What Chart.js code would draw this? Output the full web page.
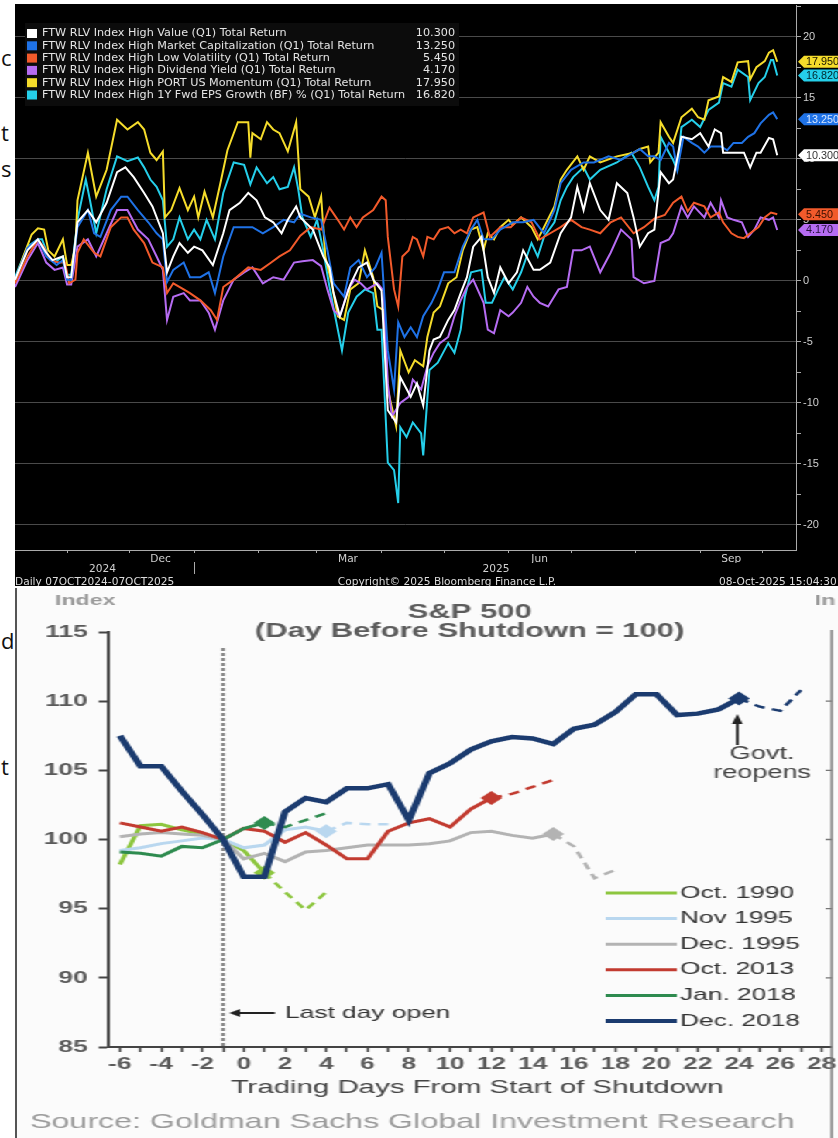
<!DOCTYPE html>
<html lang="en">
<head>
<meta charset="UTF-8">
<title>Factor index returns and S&amp;P 500 around shutdowns</title>
<script src="https://cdn.jsdelivr.net/npm/chart.js"></script>
<style>
  body { margin: 0; width: 838px; height: 1138px; position: relative; overflow: hidden; background: #fff; }
  .clip { position: absolute; left: 1px; font-family: "Open Sans", sans-serif; font-size: 22px; line-height: 22px; color: #111; }
  #bbg { position: absolute; left: 15px; top: 4px; width: 823px; height: 582px; background: #000; }
  #gsBorder { position: absolute; left: 15px; top: 588px; width: 2px; height: 550px; background: #555; }
  #gs { position: absolute; left: 17px; top: 588px; width: 530px; height: 550px; background: #fbfbfb;
        transform: scaleX(1.549); transform-origin: 0 0; }
</style>
</head>
<body>
<span class="clip" style="top:46px">c</span>
<span class="clip" style="top:121px">t</span>
<span class="clip" style="top:157px">s</span>
<span class="clip" style="top:629px">d</span>
<span class="clip" style="top:755px">t</span>

<div id="bbg"><canvas id="bbgChart" width="823" height="582"></canvas></div>
<div id="gsBorder"></div>
<div id="gs"><canvas id="gsChart" width="530" height="550"></canvas></div>

<script>
// ---------- top chart: FTW RLV factor indices, total return %, days since 07 Oct 2024 ----------
const monthStartDays = [25, 55, 86, 117, 145, 176, 206, 237, 267, 298, 329, 359];
const monthLabels = ['', 'Dec', '', '', 'Mar', '', '', 'Jun', '', '', 'Sep', ''];
const yearTickDays = [42, 231];
const yearLabels = ['2024', '2025'];
const yearSplitDay = 86;
const returnTicks = [-20, -17.5, -15, -12.5, -10, -7.5, -5, -2.5, 0, 2.5, 5, 7.5, 10, 12.5, 15, 17.5, 20, 22.5];

const seriesNames = [
  'FTW RLV Index High Value (Q1) Total Return',
  'FTW RLV Index High Market Capitalization (Q1) Total Return',
  'FTW RLV Index High Low Volatility (Q1) Total Return',
  'FTW RLV Index High Dividend Yield (Q1) Total Return',
  'FTW RLV Index High PORT US Momentum (Q1) Total Return',
  'FTW RLV Index High 1Y Fwd EPS Growth (BF) % (Q1) Total Return'
];
const seriesColors = ['#ffffff', '#1f72e6', '#f25a2b', '#b66cf2', '#f5dc2b', '#25cfea'];
const tagTextColors = ['#333333', '#d6e6ff', '#3a1000', '#24103a', '#1a1600', '#00262c'];

const footerLeft = 'Daily 07OCT2024-07OCT2025';
const footerMid = 'Copyright\u00a9 2025 Bloomberg Finance L.P.';
const footerRight = '08-Oct-2025 15:04:30';

const highValue = [[0,0.1],[6,2.5],[11,3.4],[15,2.3],[18,1.7],[23,2.0],[25,0.3],[27,0.3],[30,4.8],[35,5.8],
  [39,4.8],[44,6.4],[49,8.9],[53,9.3],[57,8.5],[62,7.2],[66,6.1],[71,3.9],[73,0.7],[76,2.0],
  [79,3.1],[83,2.3],[86,2.8],[90,2.5],[95,1.3],[100,3.9],[103,5.8],[108,6.4],[112,7.2],[116,6.6],
  [120,5.2],[124,4.8],[128,3.9],[131,5.0],[135,6.1],[137,5.2],[143,4.2],[148,2.0],[151,1.1],[153,-1.0],
  [156,-2.9],[161,-0.3],[165,1.1],[169,1.5],[172,0.1],[176,-0.8],[179,-10.6],[183,-11.6],[185,-7.9],[190,-9.5],
  [193,-8.4],[196,-10.2],[199,-5.7],[201,-4.8],[204,-4.6],[208,-3.2],[211,-2.4],[214,-1.0],[217,0.3],[220,2.8],
  [224,3.6],[227,0.3],[230,-1.0],[233,1.1],[237,-0.2],[241,0.7],[244,2.5],[249,0.9],[252,0.9],[257,1.5],
  [262,3.9],[267,5.2],[270,7.7],[273,5.8],[276,8.0],[281,5.8],[285,5.0],[289,8.0],[294,7.2],[297,5.2],
  [300,2.8],[304,3.9],[307,4.2],[310,8.9],[314,8.0],[316,8.3],[320,11.8],[325,11.6],[329,12.1],[333,11.0],
  [336,12.4],[339,12.1],[340,10.5],[344,10.5],[347,10.5],[350,10.5],[353,9.3],[356,10.5],[358,10.5],[362,11.7],
  [364,11.6],[366,10.3]];

const highMktCap = [[0,0.1],[6,2.7],[11,3.4],[15,2.0],[20,1.3],[23,1.7],[25,0.1],[27,0.1],[30,4.4],[35,5.8],
  [38,3.9],[41,3.6],[46,5.8],[51,6.9],[54,6.9],[59,5.8],[64,4.8],[68,3.9],[71,3.4],[73,-0.1],
  [76,0.9],[81,1.5],[84,0.3],[89,0.3],[93,0.7],[96,-1.0],[100,2.0],[105,4.4],[110,4.4],[114,4.4],
  [119,3.9],[124,4.4],[129,5.0],[134,4.8],[137,5.5],[142,5.2],[147,5.0],[150,2.5],[153,-0.2],[158,-1.3],
  [161,1.1],[165,1.7],[169,0.3],[173,1.1],[176,2.3],[179,-5.7],[182,-8.9],[184,-3.4],[187,-4.6],[190,-3.8],
  [193,-4.6],[196,-2.9],[200,-1.8],[203,-0.7],[206,0.7],[211,0.7],[215,2.8],[219,4.2],[222,5.0],[225,3.4],
  [229,3.4],[233,4.2],[239,4.8],[244,4.8],[249,5.0],[254,3.9],[259,5.8],[262,8.0],[267,9.1],[273,9.7],
  [278,9.7],[285,10.2],[291,9.9],[297,10.5],[300,10.8],[304,10.2],[307,10.2],[310,9.9],[314,11.3],[316,11.0],
  [318,9.1],[321,11.8],[325,11.3],[328,11.0],[331,10.5],[334,11.0],[339,11.0],[342,10.7],[345,11.3],[349,11.3],
  [352,11.8],[355,12.1],[358,12.9],[362,13.6],[364,13.8],[366,13.25]];

const highLowVol = [[0,-0.2],[6,2.0],[11,3.4],[14,2.7],[17,1.7],[21,1.5],[24,1.5],[26,-0.2],[29,0.1],[30,2.3],
  [33,3.4],[38,2.3],[41,2.0],[46,4.4],[51,5.2],[54,5.2],[57,4.2],[62,3.1],[66,1.5],[71,1.1],
  [73,-1.0],[76,-0.2],[81,-0.7],[84,-1.0],[89,-1.6],[94,-2.4],[97,-3.2],[100,-0.5],[105,0.1],[112,1.1],
  [118,0.9],[123,1.5],[127,2.0],[132,2.5],[137,3.7],[142,4.4],[147,4.2],[151,6.0],[155,5.0],[158,4.2],
  [161,5.2],[164,4.4],[167,5.2],[172,5.8],[176,6.9],[178,6.6],[179,3.6],[182,-0.7],[184,-2.1],[186,2.0],
  [189,2.5],[191,3.6],[193,3.4],[196,2.0],[198,3.6],[201,3.4],[204,4.2],[208,4.4],[211,3.9],[214,4.2],
  [217,3.9],[220,5.2],[225,5.6],[228,3.6],[233,4.4],[238,4.4],[243,5.2],[248,4.8],[252,3.4],[257,3.9],
  [262,4.4],[267,5.0],[272,4.4],[276,4.2],[281,3.9],[286,4.8],[291,5.2],[297,3.9],[302,4.4],[307,5.1],
  [312,5.4],[316,6.4],[320,6.9],[323,5.7],[326,6.4],[331,6.1],[334,5.2],[338,5.6],[340,4.8],[344,3.9],
  [347,3.6],[350,3.5],[353,3.9],[357,4.4],[360,5.2],[363,5.6],[366,5.45]];

const highDivYield = [[0,-0.5],[6,1.7],[11,3.1],[15,1.5],[19,0.9],[23,1.1],[25,-0.3],[27,-0.3],[30,2.8],[35,3.4],
  [39,2.0],[44,3.9],[49,5.8],[54,5.8],[59,4.2],[64,3.4],[68,2.0],[71,0.9],[73,-3.2],[76,-1.3],
  [81,-1.0],[84,-1.6],[89,-1.6],[93,-2.6],[96,-4.0],[100,-1.6],[105,0.1],[110,0.7],[114,1.1],[119,-0.2],
  [124,0.3],[129,0.1],[134,1.5],[138,1.6],[143,1.7],[147,1.2],[150,-0.7],[153,-2.4],[156,-2.9],[160,-0.7],
  [163,0.1],[166,-0.2],[169,-0.7],[174,-0.2],[177,-0.8],[179,-8.4],[181,-11.1],[185,-10.0],[189,-9.5],[191,-8.1],
  [195,-8.9],[198,-7.0],[201,-5.9],[204,-5.1],[208,-4.6],[211,-2.9],[214,-1.6],[217,-0.5],[220,0.1],[225,-1.8],
  [227,-4.0],[230,-4.3],[233,-2.4],[237,-2.9],[239,-2.6],[243,-1.8],[246,-0.5],[249,-1.3],[252,-1.8],[256,-2.1],
  [261,-0.7],[265,-0.5],[268,2.5],[272,2.5],[276,2.8],[281,0.7],[286,2.3],[291,4.2],[296,3.4],[297,0.3],
  [302,-0.2],[307,0.0],[310,3.1],[314,3.4],[316,3.9],[320,6.1],[323,5.2],[326,6.1],[331,5.2],[334,6.4],
  [338,5.2],[339,6.6],[342,5.2],[345,5.0],[349,4.8],[352,3.6],[355,4.2],[358,5.2],[362,5.0],[364,5.2],
  [366,4.17]];

const highMomentum = [[0,0.0],[4,2.0],[8,3.8],[11,4.3],[14,4.2],[16,2.5],[19,2.0],[23,3.4],[25,1.3],[27,1.3],
  [29,2.8],[30,6.6],[35,10.5],[39,6.9],[44,9.1],[49,13.2],[54,12.4],[59,13.0],[62,12.4],[65,10.5],
  [68,9.9],[71,10.6],[72,5.2],[75,5.8],[79,7.6],[83,5.8],[86,6.9],[88,5.2],[91,7.3],[95,5.2],
  [99,8.3],[102,10.7],[107,13.0],[112,13.0],[113,10.1],[114,12.1],[118,11.6],[121,13.0],[124,12.4],[127,12.1],
  [131,10.6],[135,13.0],[137,7.5],[141,6.9],[144,5.2],[147,6.9],[149,2.0],[152,-0.2],[155,-2.9],[158,-3.2],
  [161,-0.7],[165,-0.2],[168,2.5],[172,0.3],[174,-2.1],[177,-2.4],[179,-8.9],[183,-11.9],[185,-5.7],[189,-7.5],
  [192,-6.5],[196,-7.0],[198,-4.6],[201,-2.6],[204,-2.1],[208,-0.2],[212,0.3],[215,2.5],[219,4.2],[222,4.4],
  [225,2.5],[227,3.9],[230,3.4],[233,4.4],[237,5.0],[239,4.6],[243,5.2],[248,4.4],[251,3.4],[254,4.4],
  [259,6.1],[262,8.3],[265,9.1],[270,10.2],[273,9.1],[276,10.2],[281,9.7],[289,10.2],[297,10.5],[300,10.8],
  [304,11.0],[305,9.7],[309,10.5],[310,13.0],[314,11.8],[316,11.3],[320,13.4],[325,14.1],[328,13.4],[331,13.2],
  [333,14.8],[338,15.1],[340,16.7],[344,16.3],[347,17.9],[352,18.0],[353,16.5],[356,17.5],[360,18.0],[362,18.7],
  [364,18.9],[366,17.95]];

const highEpsGrowth = [[0,0.3],[6,2.8],[11,3.4],[13,3.4],[16,2.0],[19,1.5],[23,2.0],[25,0.5],[27,0.5],[30,5.0],
  [34,8.3],[36,6.6],[39,3.9],[44,7.5],[49,10.2],[54,9.8],[59,10.1],[62,9.3],[65,8.3],[68,7.7],
  [71,6.6],[73,2.8],[76,3.4],[79,5.2],[83,3.4],[86,4.2],[89,3.4],[92,5.0],[96,3.4],[100,7.2],
  [105,9.7],[110,9.5],[113,7.9],[116,9.3],[121,8.0],[124,8.5],[127,7.5],[131,7.7],[134,9.3],[136,7.5],
  [138,5.2],[142,3.6],[145,5.0],[148,2.5],[151,-0.5],[155,-4.0],[157,-5.7],[160,-2.6],[164,-1.3],[168,-0.7],
  [172,-1.0],[174,-4.0],[176,-4.0],[179,-14.9],[182,-15.5],[184,-18.2],[185,-12.0],[188,-12.8],[191,-11.6],[195,-12.5],
  [196,-14.3],[199,-7.3],[203,-6.7],[208,-5.1],[211,-5.9],[214,-4.0],[216,-1.3],[219,0.7],[224,0.9],[226,-1.8],
  [229,-1.8],[232,-0.7],[235,0.3],[239,-0.7],[243,0.7],[248,3.1],[251,2.0],[254,3.6],[259,4.8],[262,6.6],
  [265,7.7],[268,8.5],[273,9.3],[276,8.3],[281,9.1],[289,9.7],[296,10.5],[300,9.3],[304,7.7],[307,6.6],
  [309,7.7],[310,11.8],[314,10.5],[316,9.9],[318,9.1],[320,12.6],[325,13.2],[329,12.6],[333,14.0],[338,14.6],
  [340,16.2],[344,15.9],[347,17.3],[352,16.7],[353,14.8],[357,16.2],[360,16.7],[363,18.1],[364,18.1],[366,16.82]];

const bbgSeries = [highValue, highMktCap, highLowVol, highDivYield, highMomentum, highEpsGrowth];
const bbgFont = { family: 'DejaVu Sans', size: 10.6 };

// legend box, right-hand value tags, year row and footer
const bbgExtras = {
  id: 'bbgExtras',
  afterDraw(chart) {
    const { ctx, chartArea } = chart;
    const x = chart.scales.x, y = chart.scales.y;
    ctx.save();

    ctx.fillStyle = '#0c0c0c';
    ctx.fillRect(10, 19, 434, 83);
    ctx.font = '11.2px "DejaVu Sans"';
    ctx.textBaseline = 'middle';
    bbgSeries.forEach((s, i) => {
      const rowY = 29.5 + i * 12.3;
      const last = s[s.length - 1][1];
      ctx.fillStyle = seriesColors[i];
      ctx.fillRect(12, rowY - 4.5, 10, 9);
      ctx.fillStyle = '#e4e4e4';
      ctx.textAlign = 'left';
      ctx.fillText(seriesNames[i], 27, rowY);
      ctx.textAlign = 'right';
      ctx.fillText(last.toFixed(3), 440, rowY);
    });

    ctx.font = bbgFont.size + 'px "DejaVu Sans"';
    ctx.fillStyle = '#d0d0d0';
    ctx.textAlign = 'center';
    yearTickDays.forEach((d, i) => ctx.fillText(yearLabels[i], x.getPixelForValue(d), 565));

    const sx = Math.round(x.getPixelForValue(yearSplitDay)) + 0.5;
    ctx.strokeStyle = '#aaaaaa';
    ctx.lineWidth = 1;
    ctx.beginPath();
    ctx.moveTo(sx, 558);
    ctx.lineTo(sx, 570);
    ctx.stroke();

    ctx.font = '10.8px "Liberation Sans"';
    ctx.textAlign = 'left';
    bbgSeries.forEach((s, i) => {
      const last = s[s.length - 1][1];
      const py = y.getPixelForValue(last);
      const tip = chartArea.right + 2;
      ctx.fillStyle = seriesColors[i];
      ctx.beginPath();
      ctx.moveTo(tip, py);
      ctx.lineTo(tip + 6, py - 6);
      ctx.lineTo(chart.width, py - 6);
      ctx.lineTo(chart.width, py + 6);
      ctx.lineTo(tip + 6, py + 6);
      ctx.closePath();
      ctx.fill();
      ctx.fillStyle = tagTextColors[i];
      ctx.fillText(last.toFixed(3), tip + 8, py + 0.5);
    });

    ctx.font = bbgFont.size + 'px "DejaVu Sans"';
    ctx.fillStyle = '#dcdcdc';
    ctx.textAlign = 'left';
    ctx.fillText(footerLeft, 0, 578);
    ctx.textAlign = 'center';
    ctx.fillText(footerMid, 432, 578);
    ctx.textAlign = 'left';
    ctx.fillText(footerRight, 704, 578);
    ctx.restore();
  }
};

new Chart(document.getElementById('bbgChart'), {
  type: 'line',
  data: {
    datasets: bbgSeries.map((s, i) => ({
      label: seriesNames[i],
      data: s.map(p => ({ x: p[0], y: p[1] })),
      borderColor: seriesColors[i],
      borderWidth: 2,
      pointRadius: 0,
      tension: 0
    }))
  },
  options: {
    responsive: false,
    animation: false,
    events: [],
    layout: { padding: { top: 1, bottom: 23, left: 0, right: 0 } },
    plugins: { legend: { display: false }, tooltip: { enabled: false } },
    scales: {
      x: {
        type: 'linear', min: 0, max: 375, position: 'bottom',
        afterBuildTicks: s => { s.ticks = monthStartDays.map(v => ({ value: v })); },
        afterFit: s => { s.height = 13; s.paddingLeft = 0; s.paddingRight = 0; },
        ticks: { autoSkip: false, maxRotation: 0, padding: 0, labelOffset: 31, color: '#d0d0d0', font: bbgFont,
                 callback: (v, i) => monthLabels[i] },
        grid: { drawOnChartArea: false, tickLength: 3, color: '#aaaaaa' },
        border: { color: '#aaaaaa' }
      },
      y: {
        position: 'right', min: -22.05, max: 22.6,
        afterBuildTicks: s => { s.ticks = returnTicks.map(v => ({ value: v })); },
        afterFit: s => { s.width = 42; s.paddingTop = 0; s.paddingBottom = 0; },
        ticks: { padding: 2, color: '#cfcfcf', font: { family: 'Liberation Sans', size: 11 },
                 callback: v => (v % 5 === 0 ? String(v) : '') },
        grid: {
          color: c => (c.tick && c.tick.value % 5 === 0 ? '#4a4a4a' : 'rgba(0,0,0,0)'),
          tickColor: '#aaaaaa', tickLength: 5
        },
        border: { color: '#aaaaaa' }
      }
    }
  },
  plugins: [bbgExtras]
});

// ---------- bottom chart: S&P 500 around government shutdowns (day before shutdown = 100) ----------
const tradingDays = [-6, -5, -4, -3, -2, -1, 0, 1, 2, 3, 4, 5, 6, 7, 8, 9, 10, 11, 12, 13, 14, 15, 16, 17, 18, 19, 20, 21, 22, 23, 24, 25, 26, 27];
const tickDays = [-6, -5, -4, -3, -2, -1, 0, 1, 2, 3, 4, 5, 6, 7, 8, 9, 10, 11, 12, 13, 14, 15, 16, 17, 18, 19, 20, 21, 22, 23, 24, 25, 26, 27, 28];
const indexTicks = [85, 90, 95, 100, 105, 110, 115];
const lastOpenDay = -1;

const oct1990 = [98.2, 101.0, 101.1, 100.7, 100.4, 100.0, 99.2, 97.6, 96.2, 94.9, 96.2];
const nov1995 = [99.2, 99.4, 99.7, 99.9, 100.1, 100.0, 99.4, 99.6, 100.7, 100.9, 100.6, 101.2, 101.1, 101.1];
const dec1995 = [100.2, 100.4, 100.5, 100.4, 100.3, 100.0, 98.6, 99.0, 98.4, 99.1, 99.2, 99.4, 99.6, 99.6, 99.6,
                 99.7, 99.9, 100.5, 100.6, 100.3, 100.1, 100.4, 99.5, 97.2, 97.8];
const oct2013 = [101.2, 100.9, 100.6, 100.9, 100.5, 100.0, 100.8, 100.6, 99.8, 100.5, 99.6, 98.6, 98.6, 100.6,
                 101.2, 101.5, 100.9, 102.2, 103.0, 103.3, 103.8, 104.3];
const jan2018 = [99.1, 99.0, 98.8, 99.5, 99.4, 100.0, 100.8, 101.2, 100.9, 101.4, 101.9];
const dec2018 = [107.5, 105.3, 105.3, 103.5, 101.8, 100.0, 97.3, 97.3, 102.0, 103.0, 102.7, 103.7, 103.7, 104.0,
                 101.4, 104.8, 105.5, 106.5, 107.1, 107.4, 107.3, 106.9, 108.0, 108.3, 109.2, 110.5, 110.5, 109.0,
                 109.1, 109.4, 110.2, 109.6, 109.3, 110.8];
// index of the day the government reopened (diamond); dashed afterwards
const reopenIndex = [7, 10, 21, 18, 7, 30];

const shutdownNames = ['Oct. 1990', 'Nov 1995', 'Dec. 1995', 'Oct. 2013', 'Jan. 2018', 'Dec. 2018'];
const shutdownColors = ['#8dc63f', '#b9d7ef', '#b3b3b3', '#c23b30', '#2e8b4f', '#1b3b6f'];
const chartTitle = ['S&P 500', '(Day Before Shutdown = 100)'];
const xTitle = 'Trading Days From Start of Shutdown';
const sourceNote = 'Source: Goldman Sachs Global Investment Research';

const gsSeries = [oct1990, nov1995, dec1995, oct2013, jan2018, dec2018];

function drawArrow(ctx, x1, y1, x2, y2, len, half) {
  const a = Math.atan2(y2 - y1, x2 - x1);
  ctx.beginPath();
  ctx.moveTo(x1, y1);
  ctx.lineTo(x2 - Math.cos(a) * len * 0.6, y2 - Math.sin(a) * len * 0.6);
  ctx.stroke();
  ctx.beginPath();
  ctx.moveTo(x2, y2);
  ctx.lineTo(x2 - Math.cos(a) * len - Math.sin(a) * half, y2 - Math.sin(a) * len + Math.cos(a) * half);
  ctx.lineTo(x2 - Math.cos(a) * len + Math.sin(a) * half, y2 - Math.sin(a) * len - Math.cos(a) * half);
  ctx.closePath();
  ctx.fill();
}

const gsNotes = {
  id: 'gsNotes',
  beforeDatasetsDraw(chart) {
    const { ctx, chartArea } = chart;
    const px = chart.scales.x.getPixelForValue(lastOpenDay);
    ctx.save();
    ctx.strokeStyle = '#8a8a8a';
    ctx.lineWidth = 2.4;
    ctx.setLineDash([3, 2]);
    ctx.beginPath();
    ctx.moveTo(px, 60);
    ctx.lineTo(px, chartArea.bottom);
    ctx.stroke();
    ctx.restore();
  },
  afterDraw(chart) {
    const { ctx, chartArea } = chart;
    const y = chart.scales.y;
    const cx = (chartArea.left + chartArea.right) / 2;
    ctx.save();
    ctx.textBaseline = 'middle';

    ctx.fillStyle = '#9a9a9a';
    ctx.font = 'bold 15px "Liberation Sans"';
    ctx.textAlign = 'left';
    ctx.fillText('Index', 24.5, 13);
    ctx.fillText('In', 515, 13);

    ctx.fillStyle = '#5c5c5c';
    ctx.font = 'bold 20px "Liberation Sans"';
    ctx.textAlign = 'center';
    ctx.fillText(chartTitle[0], cx, 24);
    ctx.fillText(chartTitle[1], cx, 43);

    // axis of the neighbouring chart, cut off at the right edge
    ctx.strokeStyle = '#777777';
    ctx.lineWidth = 1.4;
    ctx.beginPath();
    ctx.moveTo(526, 42);
    ctx.lineTo(526, 550);
    [110, 105, 100, 95, 90].forEach(v => {
      const ty = y.getPixelForValue(v);
      ctx.moveTo(522, ty);
      ctx.lineTo(526, ty);
    });
    ctx.stroke();

    ctx.font = '17px "Liberation Sans"';
    ctx.textAlign = 'left';
    shutdownNames.forEach((n, i) => {
      const ly = 305 + i * 25.6;
      ctx.strokeStyle = shutdownColors[i];
      ctx.lineWidth = i === 5 ? 4 : 3;
      ctx.beginPath();
      ctx.moveTo(380, ly);
      ctx.lineTo(426, ly);
      ctx.stroke();
      ctx.fillStyle = '#333333';
      ctx.fillText(n, 428, ly);
    });

    ctx.strokeStyle = '#222222';
    ctx.fillStyle = '#222222';
    ctx.lineWidth = 2;
    drawArrow(ctx, 166.5, 425, 137, 425, 7, 4);
    ctx.fillStyle = '#333333';
    ctx.fillText('Last day open', 173, 425);

    ctx.fillStyle = '#222222';
    ctx.lineWidth = 1.8;
    drawArrow(ctx, 465, 157, 465, 126, 10, 3.5);
    ctx.fillStyle = '#444444';
    ctx.font = '17.5px "Liberation Sans"';
    ctx.textAlign = 'center';
    ctx.fillText('Govt.', 481, 166);
    ctx.fillText('reopens', 481, 185);

    ctx.font = '19px "Liberation Sans"';
    ctx.fillStyle = '#444444';
    ctx.fillText(xTitle, 297, 500);

    ctx.font = '20.8px "Liberation Sans"';
    ctx.fillStyle = '#9b9b9b';
    ctx.textAlign = 'left';
    ctx.fillText(sourceNote, 8.4, 534);
    ctx.restore();
  }
};

const gsDatasets = gsSeries.map((vals, i) => {
  const end = reopenIndex[i];
  return {
    label: shutdownNames[i],
    data: vals.map((v, k) => ({ x: tradingDays[k], y: v })),
    borderColor: shutdownColors[i],
    backgroundColor: shutdownColors[i],
    borderWidth: i === 5 ? 4.5 : 3,
    tension: 0,
    segment: {
      borderDash: c => (c.p0DataIndex >= end ? [7, 5] : undefined),
      borderWidth: c => (c.p0DataIndex >= end ? 2.5 : undefined)
    },
    pointStyle: 'rectRot',
    pointRadius: c => (c.dataIndex === end ? 7 : 0),
    pointBorderWidth: 0
  };
}).reverse();

const gsFont = { family: 'Liberation Sans', size: 17, weight: 'bold' };

new Chart(document.getElementById('gsChart'), {
  type: 'line',
  data: { datasets: gsDatasets },
  options: {
    responsive: false,
    animation: false,
    events: [],
    layout: { padding: { top: 44, right: 4.2, bottom: 0, left: 0 } },
    plugins: { legend: { display: false }, tooltip: { enabled: false } },
    scales: {
      x: {
        type: 'linear', min: -6.58, max: 28.48,
        afterBuildTicks: s => { s.ticks = tickDays.map(v => ({ value: v })); },
        afterFit: s => { s.height = 91; s.paddingLeft = 0; s.paddingRight = 0; },
        ticks: { autoSkip: false, maxRotation: 0, padding: 2, color: '#5a5a5a', font: gsFont,
                 callback: v => (v % 2 === 0 ? String(v) : '') },
        grid: { drawOnChartArea: false, tickLength: 5, tickWidth: 1.5, tickColor: '#444444' },
        border: { color: '#444444', width: 2 }
      },
      y: {
        min: 85, max: 115,
        afterBuildTicks: s => { s.ticks = indexTicks.map(v => ({ value: v })); },
        afterFit: s => { s.width = 58.7; s.paddingTop = 0; s.paddingBottom = 0; },
        ticks: { padding: 7, color: '#5a5a5a', font: gsFont },
        grid: { drawOnChartArea: false, tickLength: 6, tickWidth: 2, tickColor: '#444444' },
        border: { color: '#444444', width: 2 }
      }
    }
  },
  plugins: [gsNotes]
});
</script>
</body>
</html>
